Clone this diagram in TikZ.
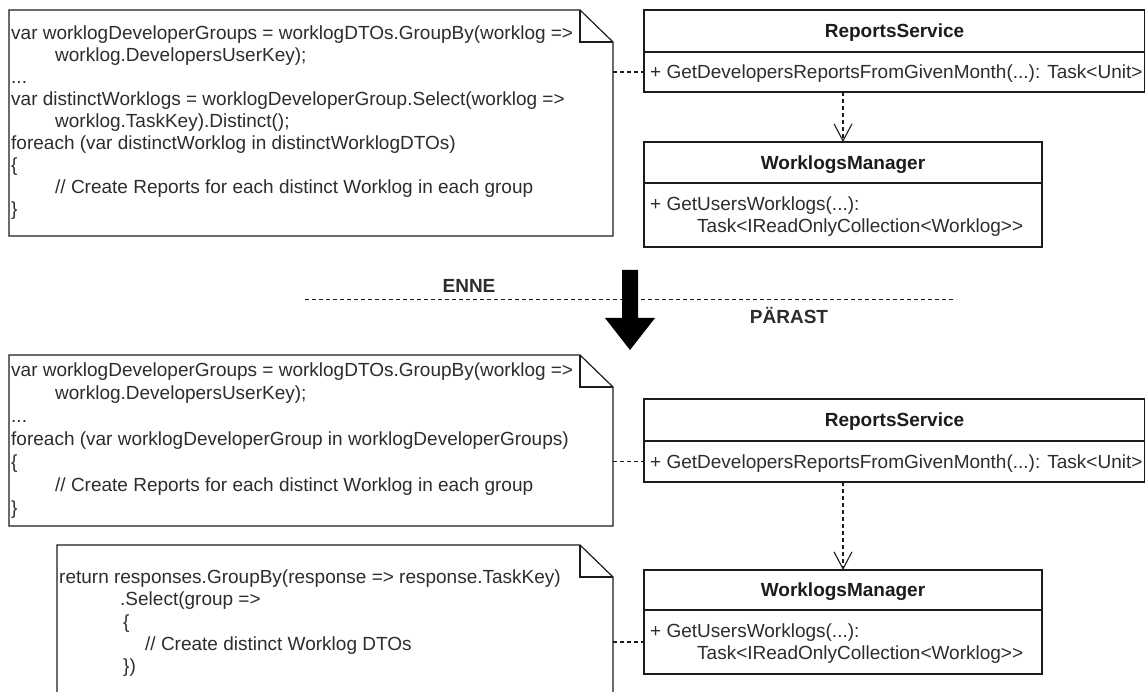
\documentclass[tikz,border=0pt]{standalone}
\usepackage{fontspec}
\setmainfont{Liberation Sans}
\usetikzlibrary{arrows.meta}

\definecolor{ink}{RGB}{28,28,28}
\definecolor{txt}{RGB}{45,45,45}

\tikzset{
  notearea/.style={inner sep=0pt, outer sep=0pt, anchor=north west},
  noteline/.style={draw=ink, line width=1.2pt, line join=miter},
  code/.style={anchor=west, inner sep=0pt, text height=13.6pt, text depth=0pt,
    font=\fontsize{19}{22}\selectfont, text=txt},
  classhead/.style={draw=ink, line width=1.2pt, anchor=north west, inner sep=0pt, outer sep=0pt,
    text height=13.6pt, text depth=0pt,
    font=\fontsize{19}{22}\selectfont\bfseries, text=ink, fill=white},
  classbody/.style={draw=ink, line width=1.2pt, anchor=north west, inner sep=0pt, outer sep=0pt, fill=white},
  dep/.style={draw=ink, line width=1.1pt, dash pattern=on 4pt off 3pt},
  uses/.style={dep, -{Straight Barb[length=17pt,width=18pt]}},
  phase/.style={font=\fontsize{19}{22}\selectfont\bfseries, text=txt, inner sep=0pt,
    text height=13.6pt, text depth=0pt},
}

% outline of a UML note with a folded top-right corner
\newcommand\foldnote[1]{%
  \draw[noteline] (#1.north west) -- ([xshift=-33pt]#1.north east)
    -- ([yshift=-32pt]#1.north east) -- (#1.south east) -- (#1.south west) -- cycle;
  \draw[noteline] ([xshift=-33pt]#1.north east) |- ([yshift=-32pt]#1.north east);
}

\begin{document}
\begin{tikzpicture}[x=1pt,y=-1pt]
\useasboundingbox (0,0) rectangle (1145,692);
\fill[white] (0,0) rectangle (1145,692);

% ---------------- before ----------------
\node[notearea, minimum width=604pt, minimum height=226pt] (nA) at (9,10) {};
\foldnote{nA}
\node[code] (nA1) at (11,33)  {var worklogDeveloperGroups = worklogDTOs.GroupBy(worklog =>};
\node[code] (nA2) at (55,55)  {worklog.DevelopersUserKey);};
\node[code] (nA3) at (11,77)  {...};
\node[code] (nA4) at (11,99)  {var distinctWorklogs = worklogDeveloperGroup.Select(worklog =>};
\node[code] (nA5) at (55,121) {worklog.TaskKey).Distinct();};
\node[code] (nA6) at (11,143) {foreach (var distinctWorklog in distinctWorklogDTOs)};
\node[code] (nA7) at (11,165) {\{};
\node[code] (nA8) at (55,187) {// Create Reports for each distinct Worklog in each group};
\node[code] (nA9) at (11,209) {\}};

\node[classhead, minimum width=501pt, minimum height=42pt] (rsA) at (644,10) {ReportsService};
\node[classbody, minimum width=501pt, minimum height=40pt] (rsAm) at (rsA.south west) {};
\node[code] (rsAt) at ([xshift=6pt]rsAm.west) {+ GetDevelopersReportsFromGivenMonth(...): Task<Unit>};

\node[classhead, minimum width=398pt, minimum height=41pt] (wmA) at (644,142) {WorklogsManager};
\node[classbody, minimum width=398pt, minimum height=64pt] (wmAm) at (wmA.south west) {};
\node[code] (wmAt1) at ([xshift=6pt,yshift=11pt]wmAm.west) {+ GetUsersWorklogs(...):};
\node[code] (wmAt2) at ([xshift=53pt,yshift=-11pt]wmAm.west) {Task<IReadOnlyCollection<Worklog>{}>};

\draw[dep] (nA.east |- rsAm.west) -- (rsAm.west);
\draw[uses] (wmA.north |- rsAm.south) -- (wmA.north);

% ---------------- separator ----------------
\node[phase] (enne) at (469,286) {ENNE};
\coordinate (sepL) at (305,300);
\coordinate (sepR) at (956,300);
\draw[draw=ink, line width=1pt, dash pattern=on 4pt off 3pt] (sepL) -- (sepR);
\node[phase] (parast) at (789,317) {PÄRAST};
\fill[black] (622,270) -- (638,270) -- (638,318) -- (655,318) -- (630,350)
  -- (605,318) -- (622,318) -- cycle;

% ---------------- after ----------------
\node[notearea, minimum width=604pt, minimum height=171pt] (nB) at (9,355) {};
\foldnote{nB}
\node[code] (nB1) at (11,370) {var worklogDeveloperGroups = worklogDTOs.GroupBy(worklog =>};
\node[code] (nB2) at (55,393) {worklog.DevelopersUserKey);};
\node[code] (nB3) at (11,416) {...};
\node[code] (nB4) at (11,439) {foreach (var worklogDeveloperGroup in worklogDeveloperGroups)};
\node[code] (nB5) at (11,462) {\{};
\node[code] (nB6) at (55,485) {// Create Reports for each distinct Worklog in each group};
\node[code] (nB7) at (11,508) {\}};

\node[notearea, minimum width=556pt, minimum height=165pt] (nC) at (57,545) {};
\foldnote{nC}
\node[code] (nC1) at (59,577)  {return responses.GroupBy(response => response.TaskKey)};
\node[code] (nC2) at (120,599) {.Select(group =>};
\node[code] (nC3) at (123,622) {\{};
\node[code] (nC4) at (145,644) {// Create distinct Worklog DTOs};
\node[code] (nC5) at (123,666) {\})};

\node[classhead, minimum width=501pt, minimum height=42pt] (rsB) at (644,399) {ReportsService};
\node[classbody, minimum width=501pt, minimum height=41pt] (rsBm) at (rsB.south west) {};
\node[code] (rsBt) at ([xshift=6pt]rsBm.west) {+ GetDevelopersReportsFromGivenMonth(...): Task<Unit>};

\node[classhead, minimum width=398pt, minimum height=40pt] (wmB) at (644,570) {WorklogsManager};
\node[classbody, minimum width=398pt, minimum height=64pt] (wmBm) at (wmB.south west) {};
\node[code] (wmBt1) at ([xshift=6pt,yshift=11pt]wmBm.west) {+ GetUsersWorklogs(...):};
\node[code] (wmBt2) at ([xshift=53pt,yshift=-11pt]wmBm.west) {Task<IReadOnlyCollection<Worklog>{}>};

\draw[dep] (nB.east |- rsBm.west) -- (rsBm.west);
\draw[dep] (nC.east |- wmBm.west) -- (wmBm.west);
\draw[uses] (wmB.north |- rsBm.south) -- (wmB.north);
\end{tikzpicture}
\end{document}
